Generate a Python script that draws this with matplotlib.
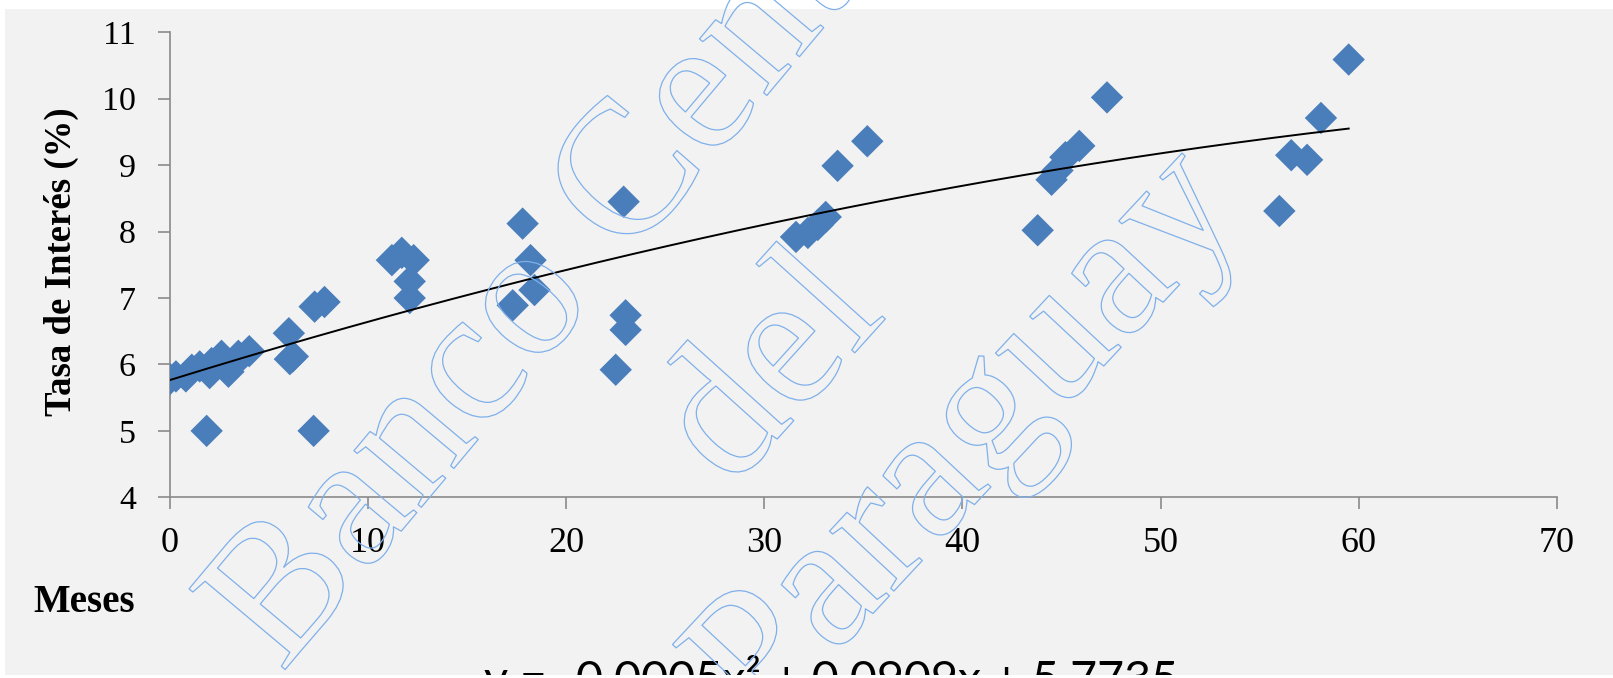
import numpy as np
import matplotlib
matplotlib.use('Agg')
import matplotlib.pyplot as plt
import matplotlib.patheffects as pe
from matplotlib.patches import Rectangle

# ---------------- data ----------------
meses = [0.0, 0.3, 0.8, 1.1, 1.5, 1.85, 2.0, 2.1, 2.6, 2.95, 3.2, 3.45, 4.0,
         6.0, 6.05, 6.2, 7.25, 7.3, 7.8,
         11.2, 11.7, 12.1, 12.1, 12.3,
         17.3, 17.8, 18.2, 18.4,
         22.5, 22.9, 23.0, 23.0,
         31.6, 32.2, 32.7, 33.1, 33.7, 35.2,
         43.8, 44.5, 44.8, 45.2, 45.9, 47.3,
         56.0, 56.6, 57.4, 58.1, 59.5]
tasa = [5.78, 5.82, 5.82, 5.92, 5.97, 5.0, 5.87, 6.02, 6.13, 5.89, 6.0, 6.13, 6.2,
        6.47, 6.08, 6.12, 5.0, 6.87, 6.94,
        7.57, 7.68, 7.25, 7.0, 7.57,
        6.89, 8.12, 7.57, 7.12,
        5.92, 8.45, 6.74, 6.52,
        7.92, 7.98, 8.1, 8.22, 8.99, 9.36,
        8.02, 8.78, 8.92, 9.12, 9.29, 10.02,
        8.31, 9.15, 9.08, 9.71, 10.59]
x_ticks = [0, 10, 20, 30, 40, 50, 60, 70]
y_ticks = [4, 5, 6, 7, 8, 9, 10, 11]
ecuacion = "y = -0.0005x² + 0.0909x + 5.7735"
marca_agua = ["Banco Central", "del", "Paraguay"]

W, H = 1613, 678
fig = plt.figure(figsize=(W / 100, H / 100), dpi=100, facecolor='white')

# grey chart background (white strips at top / bottom / left edge)
fig.patches.append(Rectangle((5 / W, 3 / H), 1 - 5 / W, (H - 9 - 3) / H,
                             transform=fig.transFigure, facecolor='#f2f2f2',
                             edgecolor='none', zorder=-10))

ax = fig.add_axes([170 / W, (H - 497.3) / H, (1556.7 - 170) / W, (497.3 - 32.3) / H])
ax.set_facecolor('none')

ax.scatter(meses, tasa, marker='D', s=16.5 ** 2, color='#4a7ebb',
           edgecolors='none', zorder=3)

coef = np.polyfit(meses, tasa, 2)
xs = np.linspace(min(meses), max(meses), 200)
ax.plot(xs, np.polyval(coef, xs), color='black', lw=1.4, zorder=4)

ax.set_xlim(0, 70)
ax.set_ylim(4, 11)
ax.set_xticks(x_ticks)
ax.set_yticks(y_ticks)
ax.set_xticklabels([str(v) for v in x_ticks])
ax.set_yticklabels([str(v) for v in y_ticks])

for s in ['top', 'right']:
    ax.spines[s].set_visible(False)
for s in ['left', 'bottom']:
    ax.spines[s].set_color('#8a8a8a')
    ax.spines[s].set_linewidth(1.2)

ax.tick_params(axis='both', direction='out', length=8.6, width=1.2, color='#8a8a8a')
ax.tick_params(axis='y', pad=16, labelsize=24.5)
ax.tick_params(axis='x', pad=13, labelsize=26)
for lab in ax.get_xticklabels() + ax.get_yticklabels():
    lab.set_family('Liberation Serif')
    lab.set_color('black')

# axis titles
fig.text(61 / W, 1 - 262 / H, 'Tasa de Interés (%)', rotation=90, ha='center',
         va='center', fontsize=26.5, fontweight='bold', family='Liberation Serif')
fig.text(33 / W, 1 - 612 / H, 'Meses', ha='left', va='baseline', fontsize=28,
         fontweight='bold', family='Liberation Serif')

# equation (cut by bottom edge)
eq = fig.text(484 / W, 1 - 655 / H, ecuacion, ha='left', va='top', fontsize=30,
              family='Lato', color='black', zorder=3)
fig.canvas.draw()
bb = eq.get_window_extent()
eq.set_fontsize(30 * 694 / bb.width)

# watermark (outlined text)
centros = [(600, 222), (775, 372), (970, 442)]
angulos = [50, 48, 47]
for txt, (px, py), ang in zip(marca_agua, centros, angulos):
    fig.text(px / W, 1 - py / H, txt, rotation=ang, rotation_mode='anchor',
             ha='center', va='center', fontsize=138, family='Liberation Serif',
             color='none', zorder=6,
             path_effects=[pe.Stroke(linewidth=0.9, foreground='#7fb0ea')])

# white strip at the very bottom
fig.patches.append(Rectangle((0, 0), 1, 3 / H, transform=fig.transFigure,
                             facecolor='white', edgecolor='none', zorder=8))

fig.savefig('out.png', dpi=100, facecolor='white')
